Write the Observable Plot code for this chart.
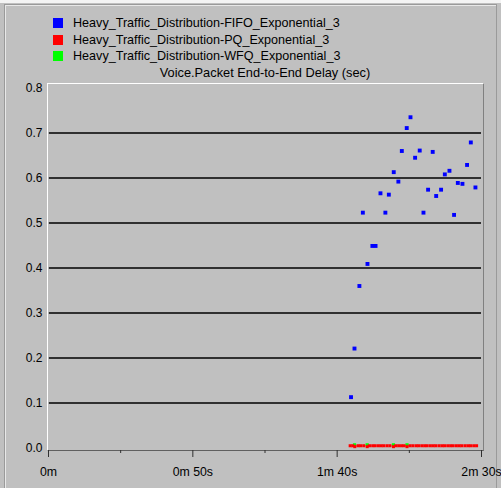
<!DOCTYPE html>
<html>
<head>
<meta charset="utf-8">
<script src="https://cdn.jsdelivr.net/npm/d3@7"></script>
<script src="https://cdn.jsdelivr.net/npm/@observablehq/plot@0.6"></script>
<style>
  html, body { margin: 0; padding: 0; }
  body { width: 501px; height: 488px; background: #c0c0c0; position: relative; overflow: hidden;
         font-family: "Liberation Sans", Arial, sans-serif; }
  #topstrip { position: absolute; left: 0; top: 0; width: 501px; height: 3px; background: #f4f4f4; }
  #box { position: absolute; left: 4px; top: 4px; width: 491px; height: 490px;
         border-top: 1px solid #9a9a9a; border-left: 1px solid #9a9a9a; border-right: 1px solid #9a9a9a;
         box-shadow: inset 1px 1px 0 #e8e8e8; }
  #panel { position: absolute; left: 47px; top: 83px; width: 435px; height: 366px;
           border-top: 1px solid #ffffff; border-left: 1px solid #ffffff;
           border-right: 1px solid #808080; border-bottom: 1px solid #606060; }
  .leg { position: absolute; left: 53px; font-size: 12.6px; color: #000; line-height: 12px; white-space: nowrap; }
  .leg span.sw { position: absolute; left: 0; top: 0; width: 10px; height: 10px; }
  .leg span.tx { position: absolute; left: 20px; top: -1px; }
  #title { position: absolute; left: 0; width: 530px; top: 65px; text-align: center; font-size: 12.8px; color: #000; }
  #chart { position: absolute; left: 0; top: 0; }
</style>
</head>
<body>
<div id="topstrip"></div>
<div id="box"></div>
<div id="panel"></div>
<div id="legend"></div>
<div id="title"></div>
<div id="chart"></div>
<script>
// ---- data ----
const seriesNames = [
  "Heavy_Traffic_Distribution-FIFO_Exponential_3",
  "Heavy_Traffic_Distribution-PQ_Exponential_3",
  "Heavy_Traffic_Distribution-WFQ_Exponential_3"
];
const seriesColors = ["#0000ff", "#ff0000", "#00ff00"];
const chartTitle = "Voice.Packet End-to-End Delay (sec)";

// time in seconds, delay in seconds
const fifoTime = [104.8, 106.0, 107.7, 108.9, 110.5, 112.2, 113.3, 115.0, 116.7, 117.9,
                  119.6, 121.2, 122.4, 124.1, 125.4, 127.0, 128.6, 129.9, 131.5, 133.1,
                  134.3, 136.0, 137.3, 138.9, 140.5, 141.8, 143.4, 145.0, 146.3, 147.9];
const fifoDelay = [0.113, 0.221, 0.360, 0.523, 0.409, 0.449, 0.449, 0.566, 0.523, 0.563,
                   0.613, 0.592, 0.660, 0.711, 0.735, 0.645, 0.661, 0.523, 0.574, 0.658,
                   0.560, 0.574, 0.608, 0.616, 0.518, 0.589, 0.587, 0.629, 0.679, 0.579];

const pqTime = [104.5, 105.4, 106.1, 107.2, 108.1, 109.2, 110.4, 111.2, 112.3, 113.2,
                114.3, 115.3, 116.2, 117.3, 118.3, 119.5, 120.3, 121.3, 122.3, 123.2,
                124.2, 125.2, 126.2, 127.3, 128.2, 129.3, 130.3, 131.2, 132.3, 133.3,
                134.2, 135.3, 136.3, 137.2, 138.3, 139.3, 140.2, 141.3, 142.3, 143.2,
                144.3, 145.3, 146.2, 147.3, 148.3];
const pqDelay = [0.005, 0.005, 0.003, 0.005, 0.005, 0.005, 0.003, 0.005, 0.005, 0.005,
                 0.005, 0.005, 0.005, 0.005, 0.005, 0.003, 0.005, 0.005, 0.005, 0.005,
                 0.003, 0.005, 0.005, 0.005, 0.005, 0.005, 0.005, 0.005, 0.005, 0.005,
                 0.005, 0.005, 0.005, 0.005, 0.005, 0.005, 0.005, 0.005, 0.005, 0.005,
                 0.005, 0.005, 0.005, 0.005, 0.005];

const wfqTime = [106.0, 110.4, 119.5, 124.2];
const wfqDelay = [0.007, 0.007, 0.007, 0.007];

const yTicks = [0, 0.1, 0.2, 0.3, 0.4, 0.5, 0.6, 0.7, 0.8];
const gridValues = [0.1, 0.2, 0.3, 0.4, 0.5, 0.6, 0.7];
const xMajorTicks = [0, 50, 100, 150];
const xMajorLabels = ["0m", "0m 50s", "1m 40s", "2m 30s"];
const xMinorTicks = [25, 75, 125];

// ---- tables ----
const fifo = fifoTime.map((t, i) => ({t, v: fifoDelay[i]}));
const pq = pqTime.map((t, i) => ({t, v: pqDelay[i]}));
const wfq = wfqTime.map((t, i) => ({t, v: wfqDelay[i]}));

// ---- legend & title (HTML) ----
const legend = document.getElementById("legend");
seriesNames.forEach((name, i) => {
  const row = document.createElement("div");
  row.className = "leg";
  row.style.top = (18 + i * 16.5) + "px";
  row.innerHTML = `<span class="sw" style="background:${seriesColors[i]}"></span><span class="tx"></span>`;
  row.querySelector(".tx").textContent = name;
  legend.appendChild(row);
});
document.getElementById("title").textContent = chartTitle;

// ---- chart ----
const chart = Plot.plot({
  width: 501,
  height: 488,
  marginLeft: 48,
  marginRight: 20,
  marginTop: 87.5,
  marginBottom: 40.5,
  style: {background: "transparent", fontFamily: "'Liberation Sans', Arial, sans-serif", fontSize: "12px", color: "#000", overflow: "visible"},
  x: {domain: [0, 150]},
  y: {domain: [0, 0.8]},
  marks: [
    Plot.ruleY(gridValues, {y: d => d, x1: 0.3, x2: 150, stroke: "#000", strokeWidth: 1.3}),
    Plot.axisY(yTicks, {tickSize: 0, tickPadding: 6, tickFormat: d3.format(".1f"), label: null, fontSize: 12, fill: "#000"}),
    Plot.axisX(xMajorTicks, {tickSize: 7, tickPadding: 10, dy: 2.5, stroke: "#303030",
      tickFormat: d => xMajorLabels[xMajorTicks.indexOf(d)], label: null, fontSize: 12.3, fill: "#000"}),
    Plot.axisX(xMinorTicks, {tickSize: 3, dy: 2.5, stroke: "#303030", tickFormat: () => "", label: null}),
    Plot.dot(wfq, {x: "t", y: "v", symbol: "square", r: 1.8, fill: seriesColors[2], stroke: "none"}),
    Plot.dot(pq, {x: "t", y: "v", symbol: "square", r: 1.7, fill: seriesColors[1], stroke: "none"}),
    Plot.dot(fifo, {x: "t", y: "v", symbol: "square", r: 2.2, fill: seriesColors[0], stroke: "none"})
  ]
});
document.getElementById("chart").appendChild(chart);
</script>
</body>
</html>
